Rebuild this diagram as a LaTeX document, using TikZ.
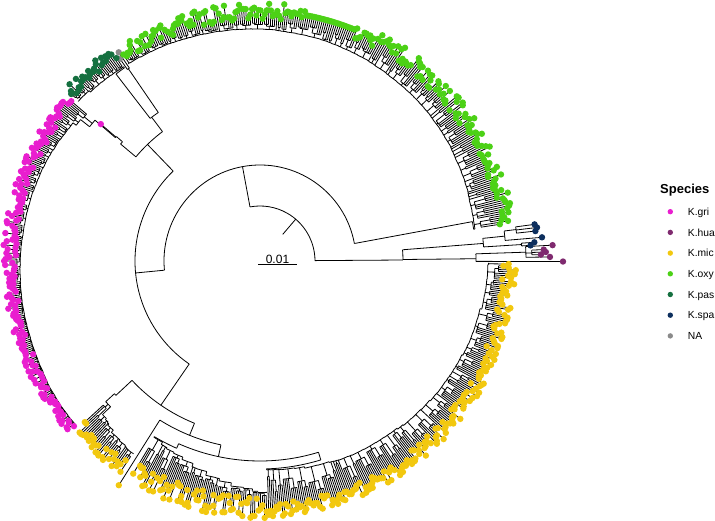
\documentclass[tikz,border=0pt]{standalone}
\usepackage{fontspec}
\setmainfont{Liberation Sans}
\definecolor{cgri}{RGB}{233,30,207}
\definecolor{chua}{RGB}{127,42,111}
\definecolor{cmic}{RGB}{242,200,15}
\definecolor{coxy}{RGB}{76,209,22}
\definecolor{cpas}{RGB}{21,112,64}
\definecolor{cspa}{RGB}{13,47,94}
\definecolor{cna}{RGB}{138,138,138}
\tikzset{
  branch/.style={line width=0.8pt, black},
  legdot/.style={circle, inner sep=0pt, minimum size=5.4pt},
  legtext/.style={anchor=base west, inner sep=0pt, font=\fontsize{10.3}{12}\selectfont},
}
\newif\ifLdots
\newcount\Lti
\newcount\Ltn
\def\Lflata{999}\def\Lflatb{999}\def\Lflatr{250}
\newcommand\Lline[3]{\ifLdots\else\draw[branch] (#1:#2) -- (#1:#3);\fi}
\newcommand\Larc[3]{\ifLdots\else\draw[branch] (#1:#3) arc[start angle=#1, end angle=#2, radius=#3 pt];\fi}
\newcommand\Ltip[4]{\Lline{#1}{#2}{#3}\ifLdots\fill[#4] (#1:#3) circle[radius=3.2pt];\fi}
\newcommand\Lgroup[5]{%
  \ifnum#2=1\relax
    \pgfmathsetmacro\Ltr{min(\Lrtmin+rnd*(\Lrtmax-\Lrtmin),#4+\Lcap)}%
    \pgfmathsetmacro\Ltr{ifthenelse(and(#3>\Lflata,#3<\Lflatb),\Lflatr,\Ltr)}%
    \Ltip{#3}{#4}{\Ltr}{#5}%
  \else
    \pgfmathsetmacro\Lrs{#4+(0.1+0.45*rnd)*max(2,min(\Lrtmin,#4+\Lcap)-#4)}%
    \Lline{#3}{#4}{\Lrs}%
    \ifnum#2>3\relax
      \pgfmathtruncatemacro\Lh{floor(#2/2)}%
      \pgfmathsetmacro\Lthmb{#1+(\Lh+#2-1)*(\Lda)/2}%
      \pgfmathsetmacro\Lrsb{\Lrs+(0.2+0.5*rnd)*max(2,min(\Lrtmin,\Lrs+\Lcap)-\Lrs)}%
      \Larc{#1}{\Lthmb}{\Lrs}%
      \Lline{\Lthmb}{\Lrs}{\Lrsb}%
      \pgfmathsetmacro\Lthc{#1+\Lh*(\Lda)}%
      \pgfmathsetmacro\Lthd{#1+(#2-1)*(\Lda)}%
      \Larc{\Lthc}{\Lthd}{\Lrsb}%
    \else
      \edef\Lh{#2}%
      \pgfmathsetmacro\Lthd{#1+(#2-1)*(\Lda)}%
      \Larc{#1}{\Lthd}{\Lrs}%
    \fi
    \foreach \j in {1,...,#2}{%
      \pgfmathsetmacro\Lthj{#1+(\j-1)*(\Lda)}%
      \ifnum\j>\Lh\relax\let\Lfrom\Lrsb\else\let\Lfrom\Lrs\fi
      \pgfmathsetmacro\Ltr{max(\Lfrom+2,min(\Lrtmin+rnd*(\Lrtmax-\Lrtmin),\Lfrom+\Lcap))}%
      \pgfmathsetmacro\Ltr{ifthenelse(and(\Lthj>\Lflata,\Lthj<\Lflatb),\Lflatr,\Ltr)}%
      \Ltip{\Lthj}{\Lfrom}{\Ltr}{#5}%
    }%
  \fi
}
% #1 first tip angle (root end) #2 last tip angle #3 tips #4 first backbone radius
% #5 linear rise #6 tip radius min #7 tip radius max #8 colour
\newcommand\ladder[8]{%
  \pgfmathsetseed{\Lseed}%
  \def\Lrtmin{#6}\def\Lrtmax{#7}%
  \pgfmathsetmacro\Lda{((#2)-(#1))/((#3)-1)}%
  \Lti=0 \Ltn=#3\relax
  \pgfmathsetmacro\Lpsi{#1-(\Lda)/2}%
  \Lline{\Lrootang}{\Lrootr}{#4}%
  \Larc{\Lrootang}{\Lpsi}{#4}%
  \def\Lprevr{#4}%
  \loop
    \pgfmathtruncatemacro\Lg{1+floor(rnd*\Lmaxg)}%
    \pgfmathtruncatemacro\Lleft{\the\Ltn-\the\Lti}%
    \ifnum\Lg>\Lleft\relax\let\Lg\Lleft\fi
    \pgfmathsetmacro\Lths{#1+\the\Lti*(\Lda)}%
    \pgfmathsetmacro\Lthe{#1+(\the\Lti+\Lg-1)*(\Lda)}%
    \pgfmathsetmacro\Lthm{(\Lths+\Lthe)/2}%
    \pgfmathsetmacro\Lpsin{\Lthe+(\Lda)/2}%
    \pgfmathsetmacro\Lt{(\the\Lti+\Lg/2)/\the\Ltn}%
    \pgfmathsetmacro\Lr{max(\Lprevr+0.3,#4+\LA*(1-exp(-min(\Lt/\Ltau,9)))+(#5)*\Lt+(rnd-0.5)*2.5)}%
    \Lline{\Lpsi}{\Lprevr}{\Lr}%
    \Larc{\Lpsi}{\Lpsin}{\Lr}%
    \Lgroup{\Lths}{\Lg}{\Lthm}{\Lr}{#8}%
    \let\Lpsi\Lpsin
    \let\Lprevr\Lr
    \advance\Lti by \Lg\relax
  \ifnum\Lti<\Ltn\repeat
}
\newcommand\drawtree{%
% backbone
\Lline{49.5}{35}{55}%
\Larc{0.4}{100.5}{55}%
\Lline{100.5}{55}{96}%
\Larc{10.5}{185.5}{96}%
\Lline{185.5}{96}{125}%
\Larc{134}{235.5}{125}%
\Lline{134}{125}{162}%
\Larc{127}{140}{162}%
\Lline{127}{162}{180}%
\Larc{124.4}{127.6}{180}%
\Lline{235.5}{125}{175}%
\Larc{223}{248}{175}%
\Lline{248}{175}{188}%
\Larc{237.8}{258}{188}%
\Lline{258}{188}{200}%
\Larc{246}{287}{200}%
% K.spa / K.hua
\Lline{0.4}{55}{143}%
\Larc{0.4}{4.5}{143}%
\Lline{0.6}{143}{216}%
\Larc{-0.1}{1.9}{216}%
\Ltip{-0.1}{216}{303}{chua}%
\Lline{1.9}{216}{266}%
\Larc{0.8}{3.1}{266}%
\Ltip{0.8}{266}{290}{chua}%
\Ltip{3.1}{266}{293}{chua}%
\Lline{1.7}{266}{272}%
\Larc{1.3}{2.3}{272}%
\Ltip{1.3}{272}{281}{chua}%
\Ltip{1.8}{272}{286}{chua}%
\Ltip{2.3}{272}{284}{chua}%
\Lline{4.5}{143}{224}%
\Larc{3.6}{5.8}{224}%
\Lline{3.6}{224}{262}%
\Larc{3.3}{3.9}{262}%
\Ltip{3.3}{262}{271}{cspa}%
\Ltip{3.9}{262}{275}{cspa}%
\Lline{5.8}{224}{246}%
\Larc{4.8}{7.0}{246}%
\Ltip{4.8}{246}{283}{cspa}%
\Lline{7.0}{246}{258}%
\Larc{6.2}{7.6}{258}%
\Ltip{6.2}{258}{277}{cspa}%
\Ltip{6.9}{258}{279}{cspa}%
\Ltip{7.6}{258}{277}{cspa}%
% NA
\Lline{124.4}{180}{233}%
\Larc{124.1}{124.7}{233}%
\Ltip{124.1}{233}{252}{cna}%
\Ltip{124.7}{233}{246}{cna}%
% K.oxy
\def\Lseed{11}\def\Lrootang{10.5}\def\Lrootr{96}\def\Lmaxg{7}\def\LA{0}\def\Ltau{1}\def\Lcap{60}%
\def\Lflata{67.5}\def\Lflatb{79.5}\def\Lflatr{250}%
\ladder{8.7}{123.5}{240}{216}{20}{242}{258}{coxy}%
\def\Lflata{999}\def\Lflatb{999}%
% K.pas
\def\Lseed{5}\def\Lrootang{127.6}\def\Lrootr{180}\def\Lmaxg{5}\def\LA{0}\def\Ltau{1}\def\Lcap{60}%
\ladder{125.3}{138.5}{30}{236}{6}{248}{260}{cpas}%
% K.gri
\def\Lseed{23}\def\Lrootang{140}\def\Lrootr{162}\def\Lmaxg{7}\def\LA{50}\def\Ltau{0.015}\def\Lcap{20}%
\ladder{139.3}{221.6}{185}{182}{12}{244}{257}{cgri}%
% K.mic
\def\Lseed{7}\def\Lrootang{223}\def\Lrootr{175}\def\Lmaxg{4}\def\LA{25}\def\Ltau{0.1}\def\Lcap{25}%
\ladder{222.6}{236.5}{30}{197}{8}{240}{254}{cmic}%
\Ltip{237.8}{188}{265}{cmic}%
\def\Lseed{17}\def\Lrootang{246}\def\Lrootr{200}\def\Lmaxg{7}\def\LA{0}\def\Ltau{1}\def\Lcap{45}%
\ladder{239.2}{271.5}{72}{205}{27}{236}{257}{cmic}%
\def\Lseed{29}\def\Lrootang{287}\def\Lrootr{200}\def\Lmaxg{8}\def\LA{0}\def\Ltau{1}\def\Lcap{48}%
\ladder{272}{359.3}{194}{208}{20}{242}{256}{cmic}%
}
\begin{document}
\begin{tikzpicture}[x=1pt,y=1pt]
\useasboundingbox (-260,-260) rectangle (455,261);
\Ldotsfalse
\drawtree
\Ldotstrue
\drawtree
% scale bar
\draw[branch] (-1.7,-3.3) -- (36.7,-3.3);
\node[anchor=base, inner sep=0pt, font=\fontsize{12}{14}\selectfont] (scale) at (17.5,-2.2) {0.01};
% legend
\node[anchor=base west, inner sep=0pt, font=\bfseries\fontsize{13}{15}\selectfont] (legtitle) at (400,67.3) {Species};
\node[legdot, fill=cgri] (d1) at (410.3,49.3) {};
\node[legtext] (t1) at (427.7,45.6) {K.gri};
\node[legdot, fill=chua] (d2) at (410.3,28.6) {};
\node[legtext] (t2) at (427.7,24.9) {K.hua};
\node[legdot, fill=cmic] (d3) at (410.3,7.9) {};
\node[legtext] (t3) at (427.7,4.2) {K.mic};
\node[legdot, fill=coxy] (d4) at (410.3,-12.8) {};
\node[legtext] (t4) at (427.7,-16.5) {K.oxy};
\node[legdot, fill=cpas] (d5) at (410.3,-33.5) {};
\node[legtext] (t5) at (427.7,-37.2) {K.pas};
\node[legdot, fill=cspa] (d6) at (410.3,-54.2) {};
\node[legtext] (t6) at (427.7,-57.9) {K.spa};
\node[legdot, fill=cna] (d7) at (410.3,-74.9) {};
\node[legtext] (t7) at (427.7,-78.6) {NA};
\end{tikzpicture}
\end{document}
